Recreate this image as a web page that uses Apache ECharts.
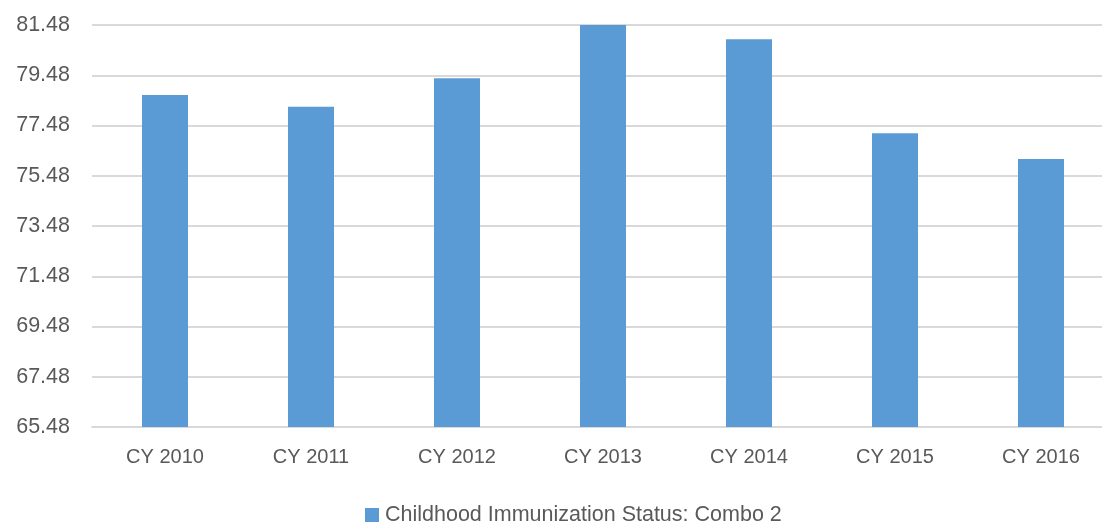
<!DOCTYPE html>
<html>
<head>
<meta charset="utf-8">
<script src="https://cdn.jsdelivr.net/npm/echarts@6/dist/echarts.min.js"></script>
<style>html,body{margin:0;padding:0;background:#fff;}#c{width:1102px;height:525px;}</style>
</head>
<body>
<div id="c"></div>
<script>
const categories = ['CY 2010','CY 2011','CY 2012','CY 2013','CY 2014','CY 2015','CY 2016'];
const values = [78.69, 78.23, 79.36, 81.50, 80.91, 77.17, 76.15];
const seriesName = 'Childhood Immunization Status: Combo 2';
const axisMin = 65.48;
const axisMax = 81.48;
const axisStep = 2;

const chart = echarts.init(document.getElementById('c'), null, {renderer:'canvas'});
const font = '"Liberation Sans", Arial, sans-serif';
chart.setOption({
  animation: false,
  backgroundColor: '#ffffff',
  grid: {left: 92, width: 1022, top: 25, height: 402, containLabel: false, outerBoundsMode: 'none'},
  legend: {
    data: [seriesName],
    top: 499,
    left: 360,
    icon: 'rect',
    itemWidth: 14, itemHeight: 14, itemGap: 6,
    textStyle: {fontFamily: font, fontSize: 21.5, color: '#595959', padding: [0, 0, 0, 1]}
  },
  xAxis: {
    type: 'category',
    data: categories,
    axisLine: {show: true, lineStyle: {color: '#d9d9d9', width: 2}},
    axisTick: {show: false},
    axisLabel: {fontFamily: font, fontSize: 20, color: '#595959', margin: 20}
  },
  yAxis: {
    type: 'value',
    min: 0,
    max: axisMax - axisMin,
    interval: axisStep,
    axisLine: {show: false},
    axisTick: {show: false},
    splitLine: {lineStyle: {color: '#d9d9d9', width: 2}},
    axisLabel: {
      fontFamily: font, fontSize: 21.5, color: '#595959', margin: 22,
      formatter: v => (v + axisMin).toFixed(2)
    }
  },
  series: [{
    name: seriesName,
    type: 'bar',
    barWidth: 46,
    itemStyle: {color: '#5b9bd5'},
    data: values.map(v => +(v - axisMin).toFixed(4))
  }]
});
</script>
</body>
</html>
